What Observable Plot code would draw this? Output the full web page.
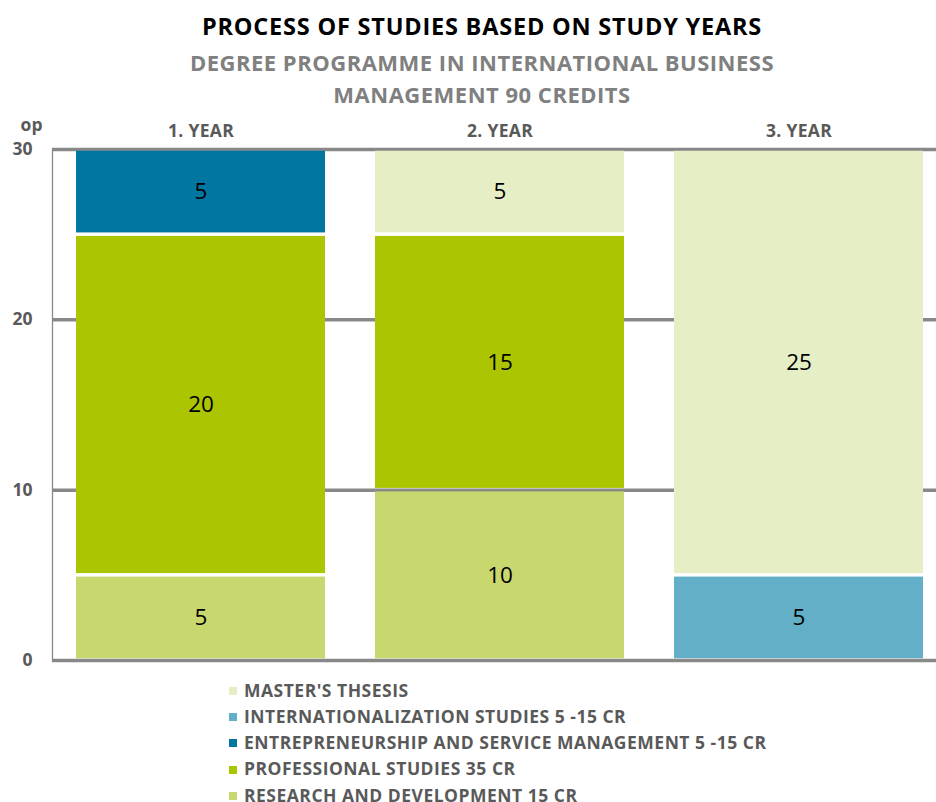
<!DOCTYPE html>
<html><head><meta charset="utf-8">
<script src="https://cdn.jsdelivr.net/npm/d3@7"></script>
<script src="https://cdn.jsdelivr.net/npm/@observablehq/plot@0.6"></script>
<style>
body{margin:0;background:#fff;font-family:"Open Sans",sans-serif;}
#wrap{width:936px;height:802px;position:relative;overflow:hidden;}
#title{padding-top:10px;padding-left:28px;text-align:center;font-weight:700;font-size:23.5px;letter-spacing:0.8px;line-height:32px;color:#000;}
#sub{margin-top:4px;padding-left:28px;text-align:center;font-weight:700;font-size:22px;letter-spacing:0.5px;line-height:32px;color:#808080;}
#chart{height:562px;}
#legend{padding-top:4.5px;padding-left:229px;}
.row{height:26.25px;line-height:26.25px;font-weight:700;font-size:17.5px;letter-spacing:0.5px;color:#595959;white-space:nowrap;}
.sw{display:inline-block;width:8px;height:8px;margin-right:7px;vertical-align:middle;position:relative;top:-1px;}
#chart svg g[aria-label="x-axis tick label"]{letter-spacing:0.3px;}
</style>
</head><body><div id="wrap"><div id="title">PROCESS OF STUDIES BASED ON STUDY YEARS</div><div id="sub">DEGREE PROGRAMME IN INTERNATIONAL BUSINESS<br>MANAGEMENT 90 CREDITS</div><div id="chart"></div><div id="legend"></div></div>
<script>
const years = ["1. YEAR", "2. YEAR", "3. YEAR"];
const series = ["RESEARCH AND DEVELOPMENT 15 CR", "PROFESSIONAL STUDIES 35 CR", "ENTREPRENEURSHIP AND SERVICE MANAGEMENT 5 -15 CR", "INTERNATIONALIZATION STUDIES 5 -15 CR", "MASTER'S THSESIS"];
const colors = ["#C8D76E", "#ABC500", "#0076A1", "#62AFC7", "#E6EEC6"];
const research = [5, 10, 0];
const professional = [20, 15, 0];
const entrepreneurship = [5, 0, 0];
const internationalization = [0, 0, 5];
const thesis = [0, 5, 25];
const yTicks = [0, 10, 20, 30];
const yLabel = "op";

const valuesBySeries = [research, professional, entrepreneurship, internationalization, thesis];
const data = [];
series.forEach((s, si) => {
  years.forEach((y, yi) => {
    const v = valuesBySeries[si][yi];
    if (v > 0) data.push({year: y, series: s, value: v});
  });
});

const chart = Plot.plot({
  width: 936, height: 562,
  marginTop: 39, marginBottom: 12, marginLeft: 52, marginRight: 0,
  style: {fontFamily: "'Open Sans', sans-serif", background: "transparent", color: "#595959", overflow: "visible"},
  x: {domain: years, range: [52, 947], paddingInner: 0.167, paddingOuter: 0.08, axis: null},
  y: {domain: [0, 30], axis: null},
  color: {domain: series, range: colors},
  marks: [
    Plot.ruleY(yTicks.filter(d => d > 0), {stroke: "#888", strokeWidth: 3.5}),
    Plot.barY(data, {x: "year", y: "value", fill: "series", order: series, insetTop: 1.75, insetBottom: 1.75}),
    Plot.text(data, Plot.stackY({x: "year", y: "value", z: "series", order: series, text: d => String(d.value), fill: "#000", fontSize: 22.5, fontWeight: "normal"})),
    Plot.ruleY([0], {stroke: "#888", strokeWidth: 3.5}),
    Plot.frame({anchor: "left", stroke: "#888", strokeWidth: 1.3}),
    Plot.axisX({anchor: "top", tickSize: 0, tickPadding: 13, fontSize: 17.5, fontWeight: "bold", fill: "#595959", label: null}),
    Plot.axisY({ticks: yTicks, tickSize: 0, tickPadding: 20, fontSize: 17.5, fontWeight: "bold", fill: "#595959", label: null}),
    Plot.text([yLabel], {frameAnchor: "top-left", dx: -21, dy: -24, text: d => d, fontSize: 17.5, fontWeight: "bold", fill: "#595959", textAnchor: "middle", lineAnchor: "middle"})
  ]
});
document.getElementById("chart").appendChild(chart);

const legend = d3.select("#legend");
series.slice().reverse().forEach(s => {
  const row = legend.append("div").attr("class", "row");
  row.append("span").attr("class", "sw").style("background", colors[series.indexOf(s)]);
  row.append("span").text(s);
});
</script>
</body></html>
